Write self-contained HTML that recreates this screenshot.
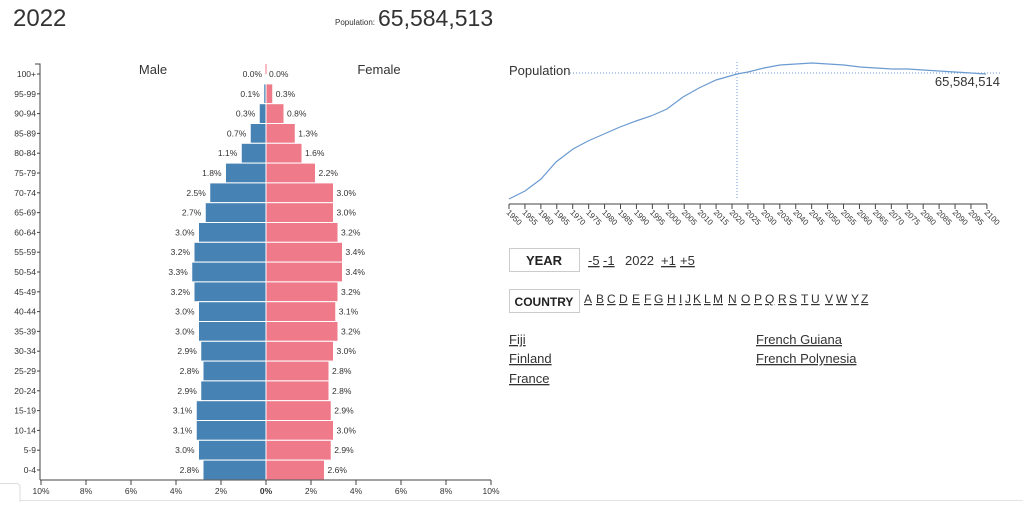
<!DOCTYPE html>
<html><head><meta charset="utf-8"><style>
body{margin:0;width:1023px;height:506px;background:#fff;overflow:hidden;font-family:"Liberation Sans",sans-serif;color:#333}
svg{position:absolute;left:0;top:0}
</style></head><body>
<svg width="1023" height="506" id="s" font-family="Liberation Sans, sans-serif">
<text x="13" y="26" font-size="24" fill="#333">2022</text>
<text x="335" y="25" font-size="8" fill="#333">Population:</text>
<text x="378" y="26" font-size="23" fill="#333">65,584,513</text>
<text x="153" y="74" font-size="13" text-anchor="middle" fill="#333">Male</text>
<text x="379" y="74" font-size="13" text-anchor="middle" fill="#333">Female</text>
<g id="pyr"></g>
<path d="M35,64H40V480" stroke="#444" fill="none"/>
<line x1="40" y1="480" x2="491" y2="480" stroke="#444"/>
<g id="bx"></g>
<text x="509" y="75" font-size="13" fill="#333">Population</text>
<line x1="570" y1="73" x2="1000" y2="73" stroke="#6b9bd1" stroke-dasharray="1,2"/>
<line x1="737" y1="62" x2="737" y2="200" stroke="#6b9bd1" stroke-dasharray="1,2"/>
<polyline fill="none" stroke="#6b9bd1" stroke-width="1.2" points="509,199 525,191 541,179 556,162 573,149 588,141 604,134 620,127 636,121 651,116 667,109 683,97 699,88 716,80 737,74 748,72 764,68 780,65 796,64 812,63 828,64 844,65 860,67 876,68 892,69 908,69 923,70 939,71 955,72 971,73 986,74"/>
<text x="1000" y="86" font-size="13" text-anchor="end" fill="#333">65,584,514</text>
<line x1="509" y1="204" x2="987" y2="204" stroke="#444"/>
<g id="tx"></g>
<rect x="509.5" y="248.5" width="70" height="23" fill="#fff" stroke="#ccc"/>
<text x="544" y="265" font-size="13" font-weight="bold" text-anchor="middle" fill="#222">YEAR</text>
<text x="588" y="265" font-size="13" fill="#333" text-decoration="underline">-5</text>
<text x="603" y="265" font-size="13" fill="#333" text-decoration="underline">-1</text>
<text x="625" y="265" font-size="13" fill="#333">2022</text>
<text x="661" y="265" font-size="13" fill="#333" text-decoration="underline">+1</text>
<text x="680" y="265" font-size="13" fill="#333" text-decoration="underline">+5</text>
<rect x="509.5" y="289.5" width="70" height="23" fill="#fff" stroke="#ccc"/>
<text x="544" y="306" font-size="12" font-weight="bold" text-anchor="middle" fill="#222">COUNTRY</text>
<g id="let"></g>
<text x="509" y="344" font-size="13" fill="#333" text-decoration="underline">Fiji</text>
<text x="509" y="363" font-size="13" fill="#333" text-decoration="underline">Finland</text>
<text x="509" y="383" font-size="13" fill="#333" text-decoration="underline">France</text>
<text x="756" y="344" font-size="13" fill="#333" text-decoration="underline">French Guiana</text>
<text x="756" y="363" font-size="13" fill="#333" text-decoration="underline">French Polynesia</text>
<line x1="20" y1="500.5" x2="1023" y2="500.5" stroke="#e4e4e4"/>
<path d="M0,483.5H16Q20,483.5 20,487V502" fill="none" stroke="#ddd"/>
</svg>
<script>
var ages=["100+","95-99","90-94","85-89","80-84","75-79","70-74","65-69","60-64","55-59","50-54","45-49","40-44","35-39","30-34","25-29","20-24","15-19","10-14","5-9","0-4"];
var m=[0.0,0.1,0.3,0.7,1.1,1.8,2.5,2.7,3.0,3.2,3.3,3.2,3.0,3.0,2.9,2.8,2.9,3.1,3.1,3.0,2.8];
var f=[0.0,0.3,0.8,1.3,1.6,2.2,3.0,3.0,3.2,3.4,3.4,3.2,3.1,3.2,3.0,2.8,2.8,2.9,3.0,2.9,2.6];
var h="",c=266,k=22.5;
for(var i=0;i<21;i++){var y=74+i*19.8,mw=m[i]*k,fw=f[i]*k;
h+='<rect x="'+(c-mw)+'" y="'+(y-9.9)+'" width="'+mw+'" height="19.8" fill="#4682b4" stroke="#fff" stroke-width="1"/>';
h+='<rect x="'+c+'" y="'+(y-9.9)+'" width="'+fw+'" height="19.8" fill="#ef7a89" stroke="#fff" stroke-width="1"/>';
h+='<text x="'+(c-mw-4)+'" y="'+(y+3)+'" font-size="8.5" text-anchor="end" fill="#333">'+m[i].toFixed(1)+'%</text>';
h+='<text x="'+(c+fw+3)+'" y="'+(y+3)+'" font-size="8.5" fill="#333">'+f[i].toFixed(1)+'%</text>';
h+='<text x="36" y="'+(y+3)+'" font-size="8.5" text-anchor="end" fill="#333">'+ages[i]+'</text><line x1="37" y1="'+y+'" x2="40" y2="'+y+'" stroke="#444"/>';}
h+='<line x1="266" y1="64" x2="266" y2="74" stroke="#ef7a89"/>';
document.getElementById("pyr").innerHTML=h;
var b="",l=[10,8,6,4,2,0,2,4,6,8,10];
for(var j=0;j<11;j++){var x=41+j*45;b+='<line x1="'+x+'" y1="480" x2="'+x+'" y2="485" stroke="#444"/><text x="'+x+'" y="494" font-size="8.5" text-anchor="middle" fill="#333"'+(j==5?' font-weight="bold"':'')+'>'+l[j]+'%</text>';}
document.getElementById("bx").innerHTML=b;
var t="";for(var j=0;j<31;j++){var x=509+j*15.93;t+='<line x1="'+x+'" y1="204" x2="'+x+'" y2="209" stroke="#444"/><text transform="translate('+(x-3)+',213) rotate(45)" font-size="8" fill="#333">'+(1950+5*j)+'</text>';}
document.getElementById("tx").innerHTML=t;
var L="ABCDEFGHIJKLMNOPQRSTUVWYZ".split(""),P=[584,596,607,619,632,644,654,667,679,685,693,704,713,728,741,754,765,778,789,801,811,825,836,851,861],g="";
for(var j=0;j<L.length;j++)g+='<text x="'+P[j]+'" y="303" font-size="12" fill="#333" text-decoration="underline">'+L[j]+'</text>';
document.getElementById("let").innerHTML=g;
</script>
</body></html>
